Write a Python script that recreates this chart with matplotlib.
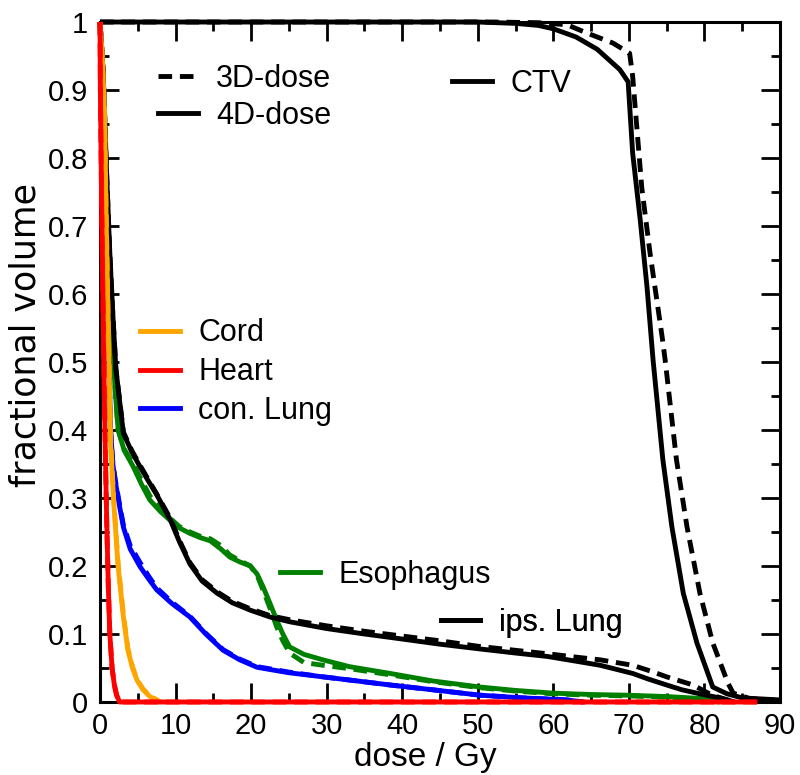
import matplotlib
matplotlib.use("Agg")
import matplotlib.pyplot as plt
from matplotlib.lines import Line2D
from matplotlib.ticker import MultipleLocator

plt.rcParams["font.family"] = ["Liberation Sans", "DejaVu Sans"]

# Dose-volume histograms: dose in Gy, fractional volume (4D and 3D dose)
ctv_dose_4d = [0, 50, 55, 58, 60, 63, 65.8, 68.8, 69.9, 70.5, 71.5, 72.4, 73.2, 74.5, 75.7, 77.2, 79.0, 81.1, 83.0, 85.0, 90]
ctv_vol_4d = [1, 1, 0.998, 0.995, 0.99, 0.978, 0.96, 0.93, 0.912, 0.807, 0.709, 0.61, 0.503, 0.356, 0.257, 0.16, 0.087, 0.022, 0.012, 0.006, 0.003]
ctv_dose_3d = [0, 52, 58, 61.8, 64.4, 67.9, 70.1, 70.5, 71.7, 72.8, 74.4, 74.8, 76.3, 77.7, 79.4, 81.1, 83.1, 83.8, 86.0, 90]
ctv_vol_3d = [1, 1, 0.999, 0.996, 0.984, 0.969, 0.954, 0.92, 0.757, 0.66, 0.537, 0.503, 0.356, 0.257, 0.16, 0.087, 0.028, 0.013, 0.005, 0.002]

ipsl_dose_4d = [0, 0.4, 0.9, 1.3, 1.7, 2.1, 3.1, 4.2, 5.3, 6.4, 7.5, 9.3, 10.5, 11.9, 13.5, 15.5, 17.5, 19.9, 22.5, 25.1, 30, 35, 38.4, 45, 50.3, 55, 59.2, 63, 66.2, 70.5, 72.5, 75, 77, 79.4, 82, 84]
ipsl_vol_4d = [1, 0.93, 0.77, 0.66, 0.57, 0.49, 0.395, 0.368, 0.346, 0.325, 0.305, 0.268, 0.236, 0.203, 0.178, 0.16, 0.146, 0.135, 0.125, 0.118, 0.108, 0.1, 0.095, 0.085, 0.078, 0.072, 0.067, 0.06, 0.054, 0.042, 0.034, 0.025, 0.018, 0.012, 0.006, 0.0]
ipsl_dose_3d = [0, 0.4, 0.9, 1.3, 1.7, 2.1, 3.1, 4.2, 5.3, 6.4, 7.5, 9.3, 10.5, 11.9, 13.5, 15.5, 17.5, 19.9, 22.5, 25.1, 30, 35, 40, 45, 50, 55, 60, 63, 66.2, 70.5, 73, 75, 78.5, 81, 84]
ipsl_vol_3d = [1, 0.93, 0.77, 0.66, 0.57, 0.49, 0.397, 0.37, 0.348, 0.327, 0.306, 0.27, 0.238, 0.205, 0.18, 0.162, 0.148, 0.137, 0.127, 0.121, 0.112, 0.104, 0.097, 0.09, 0.082, 0.076, 0.07, 0.066, 0.062, 0.054, 0.045, 0.037, 0.025, 0.01, 0.0]

eso_dose_4d = [0, 0.5, 1.0, 1.5, 2.0, 2.4, 3.2, 4.4, 5.5, 6.6, 8.0, 9.3, 10.5, 11.9, 13.2, 14.6, 16.0, 17.2, 18.5, 19.9, 20.8, 21.6, 22.5, 23.4, 24.2, 25.1, 27, 29.5, 33, 38.4, 44, 50.3, 55, 60, 65, 69.7, 75, 79.8, 82]
eso_vol_4d = [1, 0.78, 0.66, 0.56, 0.46, 0.40, 0.37, 0.346, 0.32, 0.297, 0.28, 0.267, 0.256, 0.248, 0.242, 0.237, 0.225, 0.213, 0.206, 0.2, 0.188, 0.169, 0.145, 0.12, 0.1, 0.081, 0.07, 0.062, 0.052, 0.042, 0.031, 0.022, 0.017, 0.013, 0.011, 0.01, 0.008, 0.005, 0.0]
eso_dose_3d = [0, 0.5, 1.0, 1.5, 2.0, 2.4, 3.2, 4.4, 5.5, 6.6, 8.0, 9.3, 10.5, 11.9, 13.2, 14.6, 16.0, 17.2, 18.5, 19.9, 20.8, 21.6, 22.5, 23.4, 24.2, 25.1, 27, 29.5, 33, 38.4, 44, 50.3, 55, 60, 65, 69.7, 75, 79.8, 82]
eso_vol_3d = [1, 0.78, 0.66, 0.56, 0.46, 0.40, 0.372, 0.35, 0.326, 0.303, 0.284, 0.27, 0.258, 0.25, 0.244, 0.24, 0.23, 0.216, 0.208, 0.2, 0.186, 0.164, 0.138, 0.11, 0.09, 0.072, 0.058, 0.054, 0.049, 0.04, 0.03, 0.021, 0.016, 0.012, 0.01, 0.009, 0.007, 0.004, 0.0]

conl_dose_4d = [0, 0.3, 0.6, 0.8, 1.0, 1.2, 1.4, 1.7, 2.0, 2.6, 3.1, 4.0, 5.3, 6.5, 7.5, 9.5, 11.9, 14.0, 16.3, 18.5, 20.8, 25, 29.5, 34, 38.4, 44, 50.3, 56, 61.8, 64]
conl_vol_4d = [1, 0.95, 0.87, 0.72, 0.6, 0.49, 0.4, 0.35, 0.326, 0.287, 0.257, 0.225, 0.199, 0.18, 0.165, 0.145, 0.125, 0.1, 0.076, 0.062, 0.051, 0.043, 0.037, 0.031, 0.025, 0.018, 0.01, 0.006, 0.003, 0.0]
conl_dose_3d = [0, 0.3, 0.6, 0.8, 1.0, 1.2, 1.4, 1.7, 2.0, 2.6, 3.1, 4.0, 5.3, 6.5, 7.5, 9.5, 11.9, 14.0, 16.3, 18.5, 20.8, 25, 29.5, 34, 38.4, 44, 50.3, 56, 61.8, 64]
conl_vol_3d = [1, 0.95, 0.87, 0.72, 0.6, 0.49, 0.4, 0.352, 0.328, 0.29, 0.26, 0.23, 0.205, 0.184, 0.168, 0.147, 0.126, 0.101, 0.077, 0.063, 0.052, 0.044, 0.037, 0.031, 0.025, 0.018, 0.01, 0.006, 0.003, 0.0]

cord_dose_4d = [0, 0.3, 0.6, 0.8, 1.0, 1.2, 1.4, 1.8, 2.4, 3.1, 3.7, 4.3, 4.9, 5.7, 6.6, 8.0]
cord_vol_4d = [1, 0.95, 0.87, 0.72, 0.6, 0.49, 0.38, 0.297, 0.199, 0.125, 0.076, 0.05, 0.032, 0.018, 0.008, 0.0]
cord_dose_3d = [0, 0.3, 0.6, 0.8, 1.0, 1.2, 1.4, 1.8, 2.4, 3.1, 3.7, 4.3, 4.9, 5.7, 6.6, 8.0]
cord_vol_3d = [1, 0.95, 0.87, 0.73, 0.61, 0.5, 0.39, 0.3, 0.203, 0.128, 0.078, 0.052, 0.033, 0.019, 0.009, 0.0]

heart_dose_4d = [0, 0.05, 0.2, 0.35, 0.5, 0.7, 0.9, 1.1, 1.3, 1.6, 1.9, 2.2, 2.6, 87]
heart_vol_4d = [1, 0.9, 0.75, 0.62, 0.5, 0.37, 0.26, 0.17, 0.10, 0.05, 0.025, 0.01, 0.0, 0.0]
heart_dose_3d = [0, 0.05, 0.2, 0.35, 0.5, 0.7, 0.9, 1.1, 1.3, 1.6, 1.9, 2.2, 2.6, 87]
heart_vol_3d = [1, 0.9, 0.75, 0.62, 0.5, 0.37, 0.26, 0.17, 0.10, 0.05, 0.025, 0.01, 0.0, 0.0]

x_ticks = [0, 10, 20, 30, 40, 50, 60, 70, 80, 90]
x_tick_labels = ["0", "10", "20", "30", "40", "50", "60", "70", "80", "90"]
y_ticks = [0, 0.1, 0.2, 0.3, 0.4, 0.5, 0.6, 0.7, 0.8, 0.9, 1.0]
y_tick_labels = ["0", "0.1", "0.2", "0.3", "0.4", "0.5", "0.6", "0.7", "0.8", "0.9", "1"]

ORANGE = "#FFA500"
RED = "#FF0000"
BLUE = "#0000FF"
GREEN = "#008000"
BLACK = "#000000"

LW = 3.5
DASH = (0, (2.8, 1.6))
FS = 21

fig = plt.figure(figsize=(8.0, 7.75), dpi=100)
ax = fig.add_axes([0.125, 0.0942, 0.85, 0.8774])

series = [
    (conl_dose_4d, conl_vol_4d, conl_dose_3d, conl_vol_3d, BLUE),
    (eso_dose_4d, eso_vol_4d, eso_dose_3d, eso_vol_3d, GREEN),
    (ipsl_dose_4d, ipsl_vol_4d, ipsl_dose_3d, ipsl_vol_3d, BLACK),
    (ctv_dose_4d, ctv_vol_4d, ctv_dose_3d, ctv_vol_3d, BLACK),
    (cord_dose_4d, cord_vol_4d, cord_dose_3d, cord_vol_3d, ORANGE),
    (heart_dose_4d, heart_vol_4d, heart_dose_3d, heart_vol_3d, RED),
]
for i, (d4, v4, d3, v3, col) in enumerate(series):
    ax.plot(d3, v3, color=col, lw=LW, linestyle=DASH, zorder=3 + i * 0.1,
            clip_on=False, solid_capstyle="butt", dash_capstyle="butt")
    ax.plot(d4, v4, color=col, lw=LW, zorder=3.05 + i * 0.1,
            clip_on=False, solid_capstyle="butt")

ax.set_xlim(0, 90)
ax.set_ylim(0, 1)
ax.set_xticks(x_ticks)
ax.set_xticklabels(x_tick_labels)
ax.set_yticks(y_ticks)
ax.set_yticklabels(y_tick_labels)
ax.xaxis.set_minor_locator(MultipleLocator(5))
ax.yaxis.set_minor_locator(MultipleLocator(0.05))
ax.tick_params(which="both", direction="in", top=True, right=True, width=2.0, color="black")
ax.tick_params(which="major", length=14)
ax.tick_params(which="minor", length=6.5)
ax.tick_params(axis="y", which="major", pad=8.5, labelsize=FS)
ax.tick_params(axis="x", which="major", pad=7, labelsize=FS)
for sp in ax.spines.values():
    sp.set_linewidth(2.2)

ax.set_xlabel("dose / Gy", fontsize=24, va="center")
ax.xaxis.set_label_coords(0.478, -0.081)
ax.set_ylabel("fractional volume", fontsize=25, family=["DejaVu Sans"], va="center")
ax.yaxis.set_label_coords(-0.11, 0.54)


def key(handles, labels, anchor, spacing=0.1):
    leg = ax.legend(handles, labels, loc="center left", bbox_to_anchor=anchor,
                    bbox_transform=ax.transAxes, frameon=False, fontsize=FS + 1,
                    handlelength=1.3, handletextpad=0.6, borderpad=0,
                    borderaxespad=0, labelspacing=spacing)
    ax.add_artist(leg)
    return leg


key([Line2D([], [], color=BLACK, lw=LW, linestyle=DASH),
     Line2D([], [], color=BLACK, lw=LW)],
    ["3D-dose", "4D-dose"], (0.0853, 0.889), spacing=0.22)
key([Line2D([], [], color=BLACK, lw=LW)], ["CTV"], (0.518, 0.909))
key([Line2D([], [], color=ORANGE, lw=LW),
     Line2D([], [], color=RED, lw=LW),
     Line2D([], [], color=BLUE, lw=LW)],
    ["Cord", "Heart", "con. Lung"], (0.0588, 0.485), spacing=0.29)
key([Line2D([], [], color=GREEN, lw=LW)], ["Esophagus"], (0.265, 0.187))
key([Line2D([], [], color=BLACK, lw=LW)], ["ips. Lung"], (0.501, 0.116))

fig.savefig("out.png", dpi=100)
